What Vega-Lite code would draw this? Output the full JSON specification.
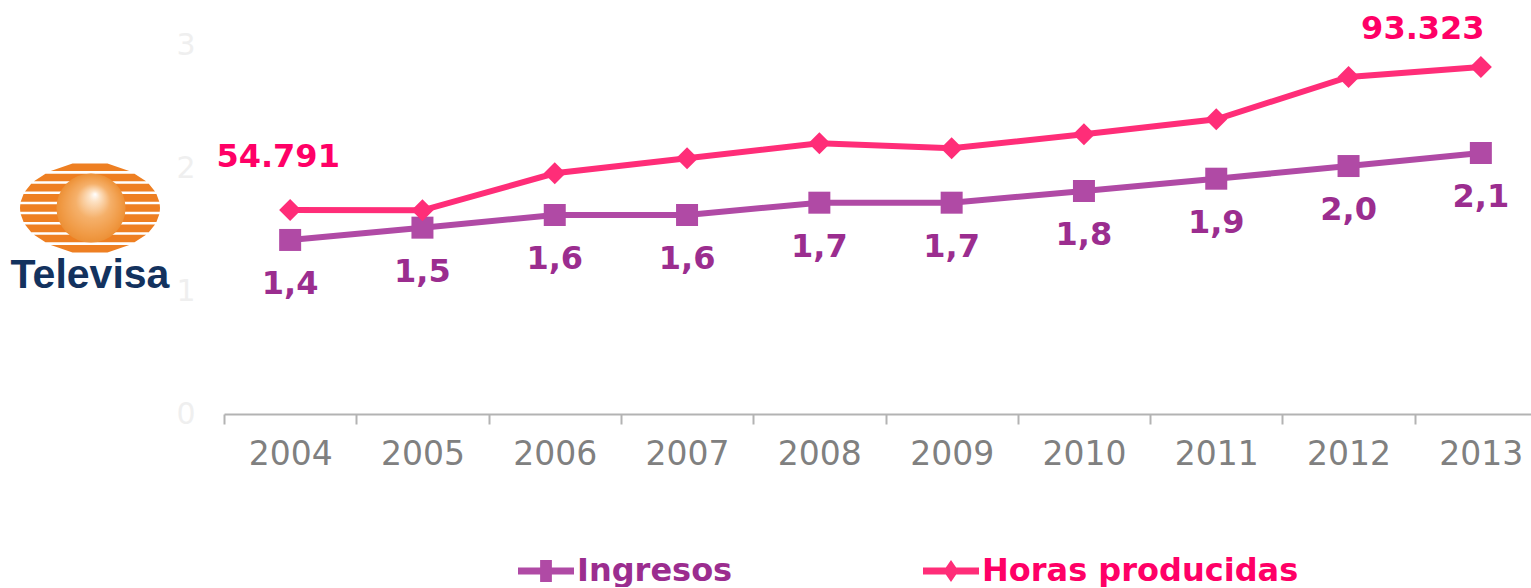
{
  "$schema": "https://vega.github.io/schema/vega-lite/v6.json",
  "background": "white",
  "padding": {"left": 0, "top": 13, "right": 0, "bottom": 0},
  "spacing": 5,
  "config": {"view": {"stroke": null}, "font": "DejaVu Sans"},
  "datasets": {
    "logo": [{"marca": "Televisa"}],
    "series": [
      {"anio": 2004, "serie": "Ingresos", "valor": 1.415, "etiqueta": "1,4"},
      {"anio": 2005, "serie": "Ingresos", "valor": 1.515, "etiqueta": "1,5"},
      {"anio": 2006, "serie": "Ingresos", "valor": 1.618, "etiqueta": "1,6"},
      {"anio": 2007, "serie": "Ingresos", "valor": 1.618, "etiqueta": "1,6"},
      {"anio": 2008, "serie": "Ingresos", "valor": 1.718, "etiqueta": "1,7"},
      {"anio": 2009, "serie": "Ingresos", "valor": 1.718, "etiqueta": "1,7"},
      {"anio": 2010, "serie": "Ingresos", "valor": 1.813, "etiqueta": "1,8"},
      {"anio": 2011, "serie": "Ingresos", "valor": 1.913, "etiqueta": "1,9"},
      {"anio": 2012, "serie": "Ingresos", "valor": 2.016, "etiqueta": "2,0"},
      {"anio": 2013, "serie": "Ingresos", "valor": 2.122, "etiqueta": "2,1"},
      {"anio": 2004, "serie": "Horas producidas", "valor": 1.659, "etiqueta": "54.791"},
      {"anio": 2005, "serie": "Horas producidas", "valor": 1.656, "etiqueta": ""},
      {"anio": 2006, "serie": "Horas producidas", "valor": 1.957, "etiqueta": ""},
      {"anio": 2007, "serie": "Horas producidas", "valor": 2.079, "etiqueta": ""},
      {"anio": 2008, "serie": "Horas producidas", "valor": 2.201, "etiqueta": ""},
      {"anio": 2009, "serie": "Horas producidas", "valor": 2.160, "etiqueta": ""},
      {"anio": 2010, "serie": "Horas producidas", "valor": 2.274, "etiqueta": ""},
      {"anio": 2011, "serie": "Horas producidas", "valor": 2.396, "etiqueta": ""},
      {"anio": 2012, "serie": "Horas producidas", "valor": 2.740, "etiqueta": ""},
      {"anio": 2013, "serie": "Horas producidas", "valor": 2.821, "etiqueta": "93.323"}
    ]
  },
  "hconcat": [
    {
      "width": 168,
      "height": 369,
      "data": {"name": "logo"},
      "layer": [
        {
          "mark": {
            "type": "point",
            "shape": "M-0.25,-0.636L0.25,-0.636L0.56,-0.527L-0.56,-0.527Z M-0.636,-0.491L0.636,-0.491L0.801,-0.381L-0.801,-0.381Z M-0.84,-0.345L0.84,-0.345L0.929,-0.236L-0.929,-0.236Z M-0.949,-0.2L0.949,-0.2L0.99,-0.091L-0.99,-0.091Z M-0.996,-0.055L0.996,-0.055L1,0L0.996,0.055L-0.996,0.055L-1,0Z M-0.99,0.091L0.99,0.091L0.949,0.2L-0.949,0.2Z M-0.929,0.236L0.929,0.236L0.84,0.345L-0.84,0.345Z M-0.801,0.381L0.801,0.381L0.636,0.491L-0.636,0.491Z M-0.56,0.527L0.56,0.527L0.25,0.636L-0.25,0.636Z",
            "size": 19600,
            "filled": true,
            "fill": "#ee7f22",
            "strokeWidth": 0,
            "opacity": 1,
            "xOffset": 6,
            "yOffset": -21.5
          },
          "encoding": {}
        },
        {
          "mark": {
            "type": "point",
            "shape": "circle",
            "size": 4778,
            "filled": true,
            "fill": {
              "gradient": "radial",
              "x1": 0.56, "y1": 0.3, "r1": 0,
              "x2": 0.5, "y2": 0.5, "r2": 0.5,
              "stops": [
                {"offset": 0, "color": "#ffffff"},
                {"offset": 0.15, "color": "#fde3c6"},
                {"offset": 0.5, "color": "#f5b06a"},
                {"offset": 0.85, "color": "#f09a45"},
                {"offset": 1, "color": "#ec9036"}
              ]
            },
            "strokeWidth": 0,
            "opacity": 1,
            "xOffset": 7,
            "yOffset": -21.5
          },
          "encoding": {}
        },
        {
          "mark": {
            "type": "text",
            "font": "Liberation Sans",
            "fontWeight": "bold",
            "fontSize": 41,
            "color": "#13325e",
            "align": "center",
            "baseline": "alphabetic",
            "xOffset": 6,
            "yOffset": 58
          },
          "encoding": {"text": {"field": "marca"}}
        }
      ]
    },
    {
      "width": 1323,
      "height": 369,
      "data": {"name": "series"},
      "encoding": {
        "x": {
          "field": "anio",
          "type": "ordinal",
          "scale": {"paddingInner": 0, "paddingOuter": 0},
          "axis": {
            "title": null,
            "labelAngle": 0,
            "tickBand": "extent",
            "domainColor": "#b3b3b3",
            "domainWidth": 2,
            "tickColor": "#b3b3b3",
            "tickWidth": 2,
            "tickSize": 10,
            "labelColor": "#808080",
            "labelFont": "DejaVu Sans",
            "labelFontSize": 33,
            "labelPadding": 14,
            "grid": false
          }
        },
        "y": {
          "field": "valor",
          "type": "quantitative",
          "scale": {"domain": [0, 3]},
          "axis": {
            "title": null,
            "values": [0, 1, 2, 3],
            "domain": false,
            "ticks": false,
            "tickSize": 0,
            "grid": false,
            "labelColor": "#efefef",
            "labelFont": "DejaVu Sans",
            "labelFontSize": 30,
            "labelPadding": 29
          }
        }
      },
      "layer": [
        {
          "mark": {"type": "line", "strokeWidth": 6},
          "encoding": {
            "color": {
              "field": "serie",
              "type": "nominal",
              "scale": {"domain": ["Ingresos", "Horas producidas"], "range": ["#b04aa5", "#ff2d78"]},
              "legend": {
                "title": null,
                "orient": "none",
                "direction": "horizontal",
                "legendX": 518,
                "legendY": 498,
                "padding": 0,
                "symbolSize": 3136,
                "symbolStrokeWidth": 0,
                "labelFont": "DejaVu Sans",
                "labelFontSize": 32,
                "labelFontWeight": "bold",
                "labelOffset": 3,
                "labelLimit": 0,
                "columnPadding": 190,
                "encode": {
                  "symbols": {
                    "update": {
                      "shape": {"signal": "datum.value === 'Ingresos' ? 'M-1,-0.125H1V0.125H-1Z M-0.21,-0.39H0.21V0.39H-0.21Z' : 'M-1,-0.125H1V0.125H-1Z M0,-0.39L0.27,0L0,0.39L-0.27,0Z'"},
                      "fill": {"signal": "datum.value === 'Ingresos' ? '#b04aa5' : '#ff2d78'"},
                      "stroke": {"value": "transparent"},
                      "opacity": {"value": 1}
                    }
                  },
                  "labels": {
                    "update": {
                      "fill": {"signal": "datum.value === 'Ingresos' ? '#9b2d8f' : '#ff0066'"}
                    }
                  }
                }
              }
            }
          }
        },
        {
          "transform": [{"filter": "datum.serie === 'Ingresos'"}],
          "mark": {"type": "point", "shape": "square", "filled": true, "opacity": 1, "size": 484},
          "encoding": {"color": {"field": "serie", "type": "nominal"}}
        },
        {
          "transform": [{"filter": "datum.serie === 'Horas producidas'"}],
          "mark": {"type": "point", "shape": "diamond", "filled": true, "opacity": 1, "size": 484},
          "encoding": {"color": {"field": "serie", "type": "nominal"}}
        },
        {
          "transform": [{"filter": "datum.serie === 'Ingresos'"}],
          "mark": {
            "type": "text",
            "font": "DejaVu Sans",
            "fontWeight": "bold",
            "fontSize": 32,
            "color": "#9b2d8f",
            "align": "center",
            "baseline": "alphabetic",
            "dy": 54
          },
          "encoding": {"text": {"field": "etiqueta"}}
        },
        {
          "transform": [{"filter": "datum.serie === 'Horas producidas' && datum.anio === 2004"}],
          "mark": {
            "type": "text",
            "font": "DejaVu Sans",
            "fontWeight": "bold",
            "fontSize": 32,
            "color": "#ff0066",
            "align": "center",
            "baseline": "alphabetic",
            "dx": -12,
            "dy": -43
          },
          "encoding": {"text": {"field": "etiqueta"}}
        },
        {
          "transform": [{"filter": "datum.serie === 'Horas producidas' && datum.anio === 2013"}],
          "mark": {
            "type": "text",
            "font": "DejaVu Sans",
            "fontWeight": "bold",
            "fontSize": 32,
            "color": "#ff0066",
            "align": "center",
            "baseline": "alphabetic",
            "dx": -58,
            "dy": -28
          },
          "encoding": {"text": {"field": "etiqueta"}}
        }
      ]
    }
  ]
}
